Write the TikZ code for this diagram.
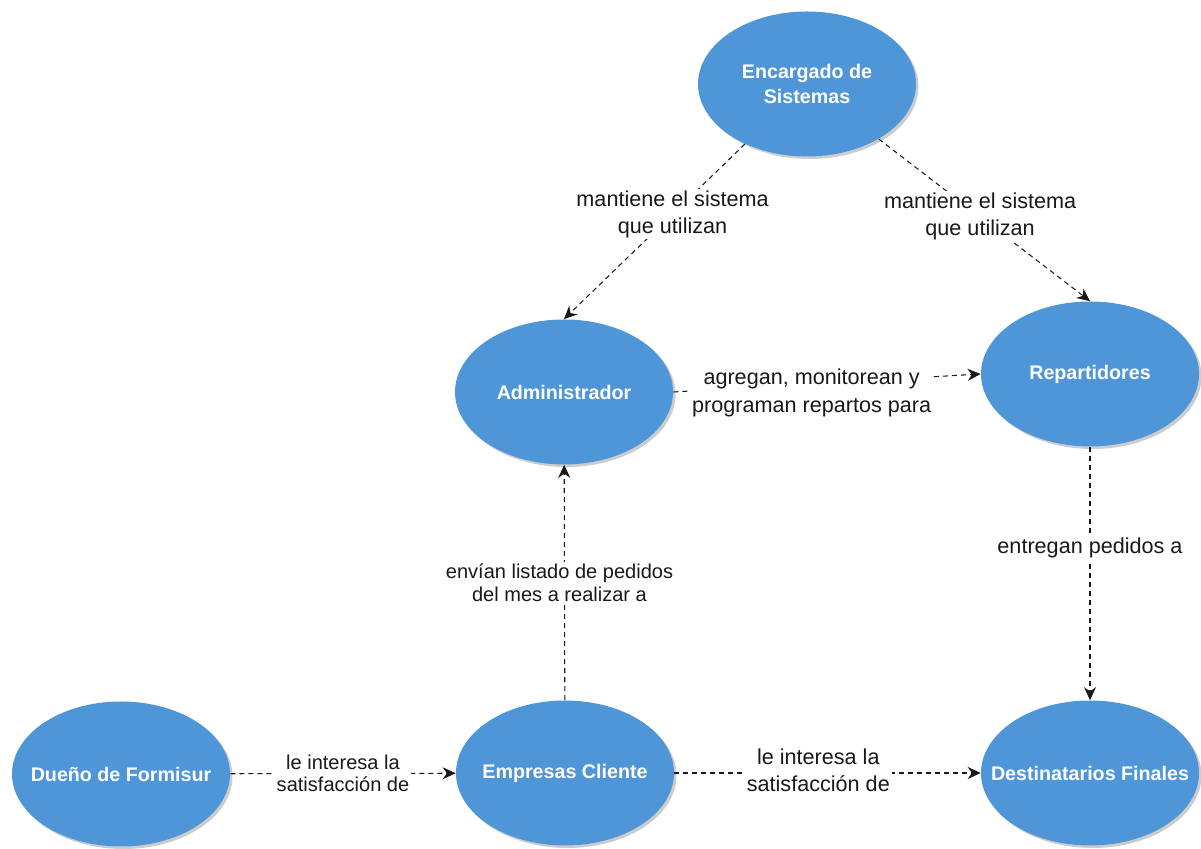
\documentclass[tikz,border=0pt]{standalone}
\usepackage{fontspec}
\setmainfont{Liberation Sans}
\usetikzlibrary{arrows.meta,shapes.geometric,shadows}
\definecolor{actorblue}{RGB}{79,150,216}

\begin{document}
\begin{tikzpicture}[
        actor/.style={ellipse, fill=actorblue, minimum width=4.36cm, minimum height=2.9cm, inner sep=0pt,
            drop shadow={shadow xshift=0.05cm, shadow yshift=-0.05cm, opacity=0.4, fill=black!50},
            label={[actorname]center:#1}},
        actorname/.style={text=white, align=center, font=\fontsize{11.2}{14.2}\selectfont\bfseries},
        rel/.style={-{Stealth[length=0.26cm, width=0.24cm]}, dash pattern=on 0.1cm off 0.08cm, line width=0.6pt, black!90},
        lbl/.style={fill=white, inner sep=1pt, align=center, text=black!90, font=\fontsize{12.3}{15.4}\selectfont},
        lbls/.style={lbl, font=\fontsize{11.4}{12.8}\selectfont}
    ]
        \useasboundingbox (0,0) rectangle (24.02,16.98);

        % Actores
        \node[actor={Encargado de\\Sistemas}] (enc) at (16.14,15.3) {};
        \node[actor={Administrador}] (admin) at (11.28,9.14) {};
        \node[actor={Repartidores}] (rep) at (21.8,9.5) {};
        \node[actor={Dueño de Formisur}] (duen) at (2.42,1.5) {};
        \node[actor={Empresas Cliente}] (emp) at (11.3,1.52) {};
        \node[actor={Destinatarios Finales}] (dest) at (21.8,1.52) {};

        % Relaciones
        \draw[rel] (enc) -- node[lbl, pos=0.4] {mantiene el sistema\\que utilizan} (admin.north);
        \draw[rel] (enc) -- node[lbl, pos=0.48] {mantiene el sistema\\que utilizan} (rep.north);
        \draw[rel] (admin.east) -- node[lbl, pos=0.45, yshift=-0.18cm] {agregan, monitorean y\\programan repartos para} (rep.west);
        \draw[rel] (emp) -- node[lbls, xshift=-0.1cm] {envían listado de pedidos\\del mes a realizar a} (admin);
        \draw[rel] (rep) -- node[lbl, pos=0.4] {entregan pedidos a} (dest);
        \draw[rel] (duen) -- node[lbls] {le interesa la\\satisfacción de} (emp);
        \draw[rel] (emp) -- node[lbl, pos=0.47, yshift=0.05cm] {le interesa la\\satisfacción de} (dest);
    \end{tikzpicture}
\end{document}
